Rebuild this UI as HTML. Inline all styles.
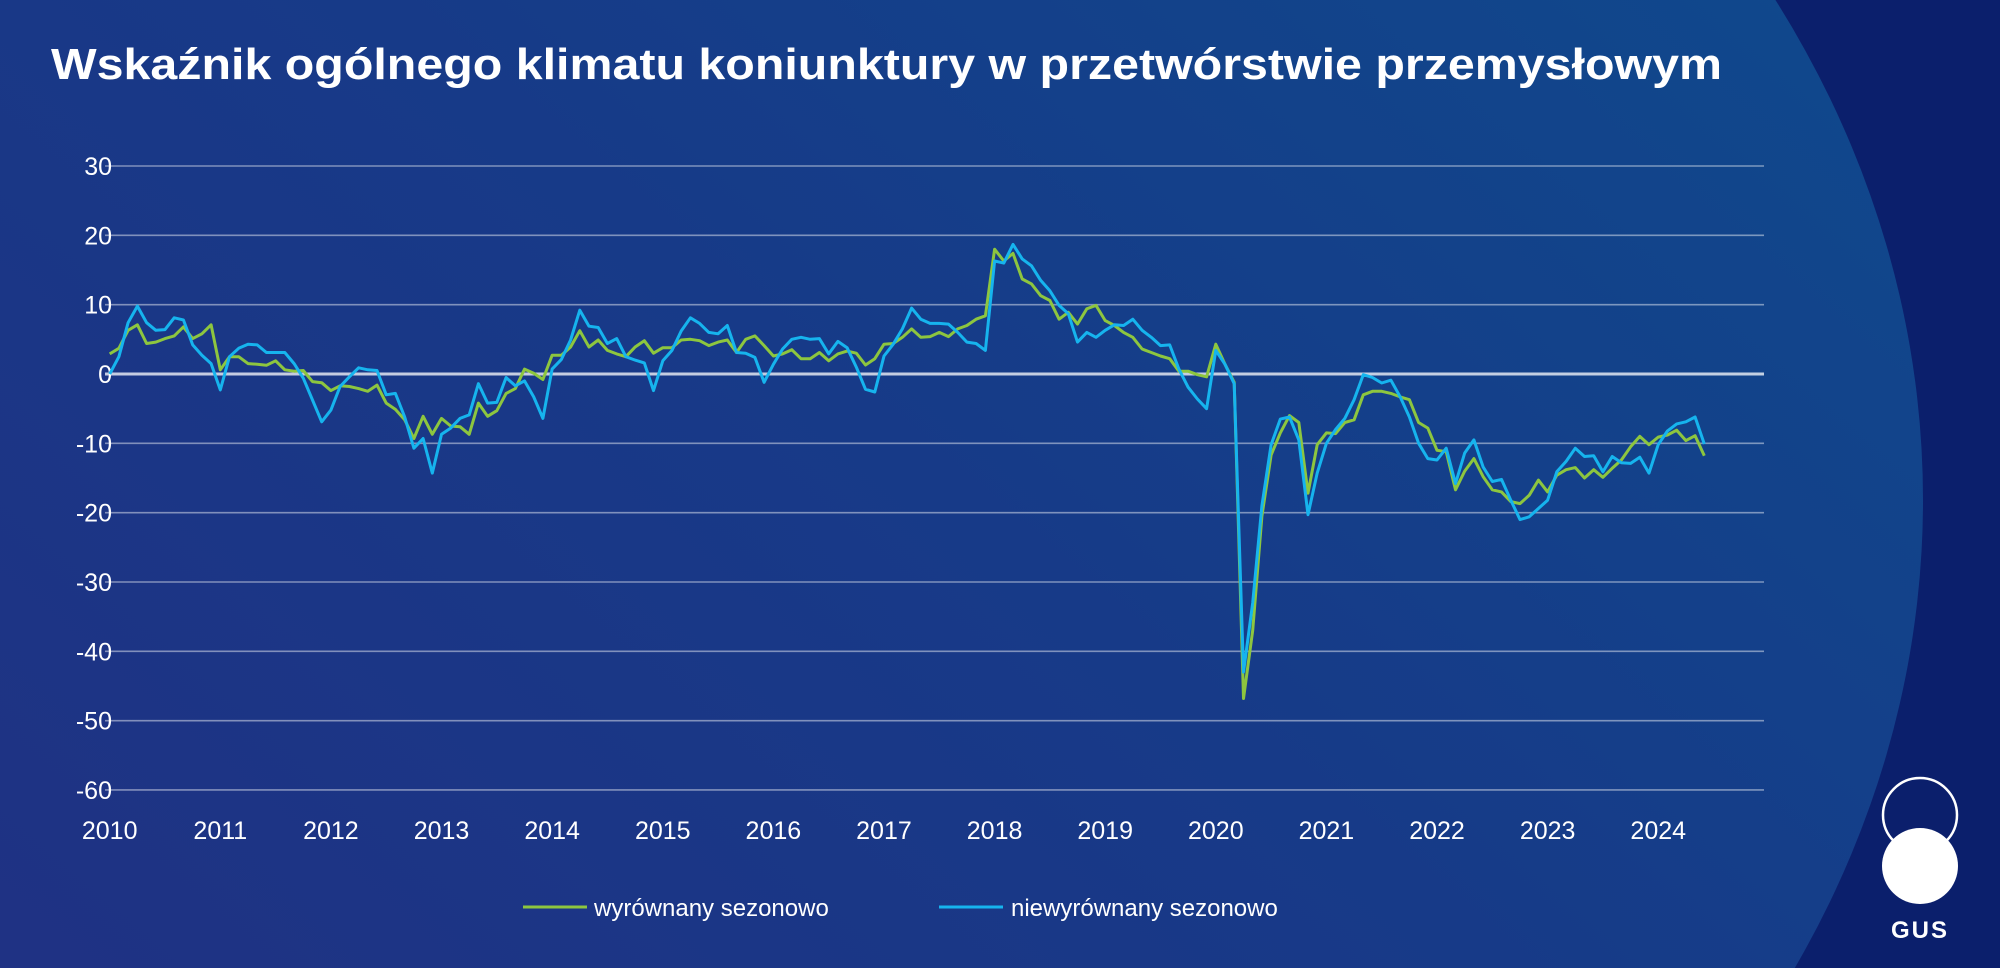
<!DOCTYPE html>
<html><head><meta charset="utf-8"><style>
html,body{margin:0;padding:0;width:2000px;height:968px;overflow:hidden;background:#0b1f6c}
svg{display:block;overflow:hidden}
text{font-family:"Liberation Sans",sans-serif;fill:#fff}
</style></head><body>
<svg id="chart" width="2000" height="968" viewBox="0 0 2000 968" xmlns="http://www.w3.org/2000/svg">
<defs>
<linearGradient id="bg" x1="0" y1="1" x2="1" y2="0">
<stop offset="0" stop-color="#262b80"/><stop offset="0.55" stop-color="#173a88"/><stop offset="1" stop-color="#0c4f8e"/>
</linearGradient>
<clipPath id="cc"><rect x="0" y="0" width="2000" height="968"/></clipPath>
</defs>
<rect x="0" y="0" width="2000" height="968" fill="#0b1f6c"/>
<g clip-path="url(#cc)"><ellipse cx="700" cy="500" rx="1223" ry="1050" fill="url(#bg)"/></g>
<text x="51" y="79" font-size="44" font-weight="bold" textLength="1671" lengthAdjust="spacingAndGlyphs">Wskaźnik ogólnego klimatu koniunktury w przetwórstwie przemysłowym</text>
<g id="grid"></g><g id="ylabels"></g><g id="xlabels"></g><g id="series"></g>
<g>
<line x1="523" y1="907" x2="587" y2="907" stroke="#8dc63f" stroke-width="3"/>
<text x="594" y="916" font-size="24">wyrównany sezonowo</text>
<line x1="939" y1="907" x2="1003" y2="907" stroke="#16b4ee" stroke-width="3"/>
<text x="1011" y="916" font-size="24">niewyrównany sezonowo</text>
</g>
<g>
<circle cx="1920" cy="815" r="37" fill="none" stroke="#fff" stroke-width="2.5"/>
<circle cx="1920" cy="866" r="38" fill="#fff"/>
<text x="1920" y="938" font-size="24" font-weight="bold" text-anchor="middle" letter-spacing="2">GUS</text>
</g>
</svg>
<script>
const yTicks=[30,20,10,0,-10,-20,-30,-40,-50,-60];
const years=[2010,2011,2012,2013,2014,2015,2016,2017,2018,2019,2020,2021,2022,2023,2024];
const adjusted=[2.9,3.7,6.3,7.1,4.4,4.6,5.1,5.5,6.8,5.1,5.8,7.1,
0.6,2.5,2.5,1.5,1.4,1.25,1.9,0.6,0.4,0.5,-1.1,-1.25,
-2.4,-1.7,-1.8,-2.1,-2.5,-1.6,-4.2,-5.1,-6.6,-9.3,-6.1,-8.7,
-6.4,-7.5,-7.6,-8.7,-4.2,-6.1,-5.3,-2.8,-2.1,0.7,0.1,-0.8,
2.7,2.7,3.9,6.25,3.9,4.9,3.4,2.9,2.5,3.9,4.8,3.0,
3.8,3.8,4.9,5.0,4.8,4.1,4.6,4.9,3.1,5.0,5.5,4.1,
2.6,2.9,3.5,2.2,2.2,3.1,1.9,2.9,3.3,3.0,1.3,2.2,
4.3,4.4,5.3,6.5,5.3,5.4,6.0,5.4,6.5,7.0,7.9,8.4,
18,16.3,17.4,13.7,13,11.3,10.6,7.9,8.9,7.2,9.4,9.9,
7.7,7.0,6.0,5.3,3.6,3.1,2.6,2.2,0.4,0.4,-0.1,-0.4,
4.3,1.4,-1.2,-46.8,-37,-20.5,-11.7,-8.5,-6,-7,-17.2,-10.2,
-8.5,-8.6,-7,-6.6,-3,-2.5,-2.5,-2.8,-3.3,-3.7,-7,-7.8,
-11,-11.2,-16.7,-14,-12.2,-14.8,-16.7,-17,-18.4,-18.7,-17.5,-15.3,
-17,-14.6,-13.8,-13.5,-15,-13.8,-14.9,-13.6,-12.4,-10.5,-9,-10.2,
-9.1,-8.8,-8.1,-9.6,-8.9,-11.8];
const unadjusted=[0,2.5,7.4,9.8,7.4,6.3,6.4,8.1,7.8,4.2,2.7,1.5,
-2.3,2.5,3.7,4.3,4.2,3.1,3.1,3.1,1.5,-0.6,-3.75,-6.9,
-5.2,-1.8,-0.4,0.9,0.6,0.5,-3,-2.8,-6.2,-10.7,-9.3,-14.3,
-8.7,-7.8,-6.4,-5.9,-1.4,-4.2,-4.1,-0.5,-1.7,-1,-3.3,-6.4,
0.7,2.1,4.9,9.2,6.9,6.7,4.4,5.1,2.5,2,1.6,-2.4,
1.9,3.4,6.2,8.1,7.3,6.0,5.8,7.0,3.1,3.0,2.4,-1.2,
1.4,3.6,5.0,5.3,5.0,5.1,2.9,4.7,3.8,1.0,-2.2,-2.6,
2.6,4.3,6.5,9.5,7.9,7.3,7.3,7.2,6.0,4.6,4.4,3.4,
16.3,16,18.7,16.6,15.6,13.5,12,9.9,8.7,4.6,6.0,5.3,
6.3,7.1,7.0,7.9,6.3,5.3,4.1,4.2,0.7,-1.9,-3.6,-5,
3.4,1.4,-1.4,-43,-33,-19,-10.2,-6.5,-6.2,-9.5,-20.3,-14.3,
-10,-8,-6.4,-3.7,-0.1,-0.5,-1.3,-0.9,-3.3,-6.2,-10,-12.2,
-12.4,-10.7,-15.8,-11.4,-9.5,-13.4,-15.5,-15.2,-18.2,-21,-20.6,-19.4,
-18.2,-14.1,-12.6,-10.7,-11.9,-11.8,-14.1,-11.9,-12.8,-12.9,-12,-14.3,
-10.2,-8.2,-7.2,-6.9,-6.2,-10.1];
const NS='http://www.w3.org/2000/svg';
const X0=109.7, YEARW=110.61, Y0=374, PER10=69.33;
function xScale(i){return X0+YEARW*i/12;}
function yScale(v){return Y0-v*PER10/10;}
function mk(tag,attrs,parent){const e=document.createElementNS(NS,tag);for(const k in attrs)e.setAttribute(k,attrs[k]);parent.appendChild(e);return e;}
const grid=document.getElementById('grid'),yl=document.getElementById('ylabels'),xl=document.getElementById('xlabels'),ser=document.getElementById('series');
yTicks.forEach(t=>{
const y=yScale(t);
const g=mk('line',{x1:105,x2:1764,y1:y,y2:y,stroke:t===0?'rgba(255,255,255,0.75)':'rgba(255,255,255,0.45)','stroke-width':t===0?3:1.6},grid);


const lb=mk('text',{x:112,y:y+9,'font-size':25,'text-anchor':'end'},yl);
lb.textContent=String(t);


});
years.forEach((yr,k)=>{
const lb=mk('text',{x:xScale(k*12),y:839,'font-size':25,'text-anchor':'middle'},xl);
lb.textContent=String(yr);


});
function line(data,color,name){
const d=data.map((v,i)=>(i?'L':'M')+xScale(i).toFixed(1)+' '+yScale(v).toFixed(1)).join(' ');
const p=mk('path',{d:d,fill:'none',stroke:color,'stroke-width':3,'stroke-linejoin':'round'},ser);


}
line(adjusted,'#8dc63f','series-adjusted-line');
line(unadjusted,'#16b4ee','series-unadjusted-line');
</script>
</body></html>
